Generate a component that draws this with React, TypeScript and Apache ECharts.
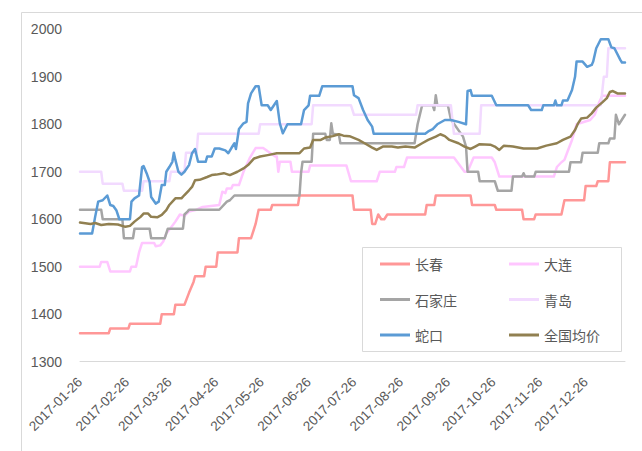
import { useEffect, useRef } from 'react';
import * as echarts from 'echarts';

// x axis: one category per day, labels on the 26th of each month
const startDate = '2017-01-26';
const dayCount = 361;

const yMin = 1300;
const yMax = 2000;
const yStep = 100;

const legendLeft = ['长春', '石家庄', '蛇口'];
const legendRight = ['大连', '青岛', '全国均价'];

// [day index from 2017-01-26, price]
const changchun = [[0,1360],[19,1360],[20,1370],[32,1370],[33,1380],[53,1380],[54,1400],[62,1400],[63,1420],[69,1420],[72,1445],[75,1468],[76,1480],[82,1480],[83,1500],[90,1500],[91,1530],[104,1530],[105,1560],[113,1560],[116,1590],[118,1620],[126,1620],[127,1630],[144,1630],[145,1650],[180,1650],[181,1620],[192,1620],[193,1590],[195,1590],[197,1610],[199,1600],[201,1600],[203,1610],[228,1610],[229,1630],[234,1630],[235,1650],[258,1650],[259,1630],[274,1630],[275,1620],[292,1620],[293,1600],[300,1600],[301,1610],[318,1610],[320,1640],[333,1640],[334,1670],[341,1670],[342,1680],[349,1680],[350,1720],[360,1720]];

const dalian = [[0,1500],[13,1500],[14,1510],[18,1510],[20,1490],[33,1490],[34,1500],[37,1500],[39,1530],[41,1550],[49,1550],[50,1543],[53,1545],[55,1553],[57,1570],[60,1582],[63,1595],[66,1610],[69,1607],[72,1616],[77,1620],[81,1626],[92,1630],[94,1658],[96,1655],[97,1665],[100,1665],[101,1672],[105,1672],[108,1700],[112,1728],[116,1750],[121,1750],[124,1743],[129,1732],[130,1732],[131,1700],[132,1721],[139,1721],[140,1700],[151,1700],[152,1713],[176,1713],[179,1680],[196,1680],[198,1700],[208,1700],[209,1710],[214,1710],[216,1730],[247,1730],[254,1700],[256,1700],[260,1730],[272,1730],[274,1720],[277,1690],[313,1690],[315,1710],[318,1720],[320,1725],[322,1742],[325,1767],[328,1800],[337,1809],[340,1820],[343,1847],[345,1860],[360,1860]];

const shijiazhuang = [[0,1620],[14,1620],[15,1600],[28,1600],[29,1560],[35,1560],[36,1580],[46,1580],[47,1560],[56,1560],[58,1580],[68,1580],[69,1610],[71,1616],[72,1620],[92,1620],[97,1637],[99,1640],[102,1650],[145,1650],[146,1697],[147,1721],[153,1721],[154,1780],[162,1780],[163,1767],[165,1767],[166,1802],[167,1780],[171,1778],[172,1760],[221,1760],[223,1800],[226,1840],[233,1840],[234,1830],[235,1861],[236,1840],[243,1840],[245,1810],[253,1774],[255,1753],[256,1700],[263,1700],[264,1680],[274,1680],[276,1660],[285,1660],[286,1690],[292,1690],[293,1697],[294,1690],[300,1690],[301,1700],[323,1700],[324,1720],[331,1720],[332,1740],[342,1740],[343,1760],[349,1760],[350,1770],[353,1770],[354,1820],[356,1800],[360,1820]];

const qingdao = [[0,1700],[14,1700],[15,1675],[28,1675],[29,1660],[41,1660],[42,1680],[59,1680],[60,1700],[69,1700],[70,1740],[77,1740],[78,1780],[118,1780],[119,1800],[153,1800],[154,1840],[179,1840],[181,1820],[222,1820],[223,1840],[245,1840],[247,1780],[264,1780],[265,1840],[344,1840],[346,1900],[348,1900],[349,1960],[360,1960]];

const shekou = [[0,1570],[8,1570],[10,1605],[12,1637],[15,1640],[18,1650],[20,1630],[22,1628],[24,1619],[26,1600],[33,1600],[34,1637],[36,1644],[39,1650],[41,1710],[42,1712],[44,1697],[46,1679],[47,1647],[50,1633],[52,1637],[54,1672],[56,1672],[57,1700],[59,1710],[61,1721],[62,1740],[63,1725],[65,1700],[67,1694],[69,1700],[72,1714],[74,1739],[76,1748],[78,1721],[83,1721],[84,1732],[87,1732],[89,1749],[92,1749],[96,1745],[98,1739],[100,1750],[102,1760],[103,1748],[105,1790],[108,1802],[110,1805],[111,1844],[113,1865],[116,1880],[118,1880],[120,1840],[124,1840],[126,1830],[130,1849],[132,1802],[134,1781],[137,1800],[146,1800],[148,1830],[151,1840],[152,1860],[158,1860],[160,1880],[180,1880],[181,1861],[184,1855],[187,1830],[190,1809],[193,1795],[194,1780],[228,1780],[230,1785],[233,1790],[236,1800],[241,1809],[245,1809],[250,1805],[255,1800],[256,1870],[258,1872],[259,1860],[272,1860],[275,1840],[296,1840],[298,1830],[305,1830],[306,1840],[313,1840],[314,1850],[315,1840],[318,1840],[319,1850],[322,1850],[325,1872],[327,1900],[328,1932],[332,1932],[335,1921],[338,1925],[339,1932],[341,1960],[344,1979],[349,1979],[351,1962],[353,1960],[357,1935],[358,1930],[360,1930]];

const junjia = [[0,1593],[7,1590],[10,1592],[14,1588],[19,1590],[25,1589],[30,1584],[33,1586],[36,1595],[40,1605],[42,1612],[45,1612],[47,1605],[51,1604],[54,1609],[57,1619],[59,1630],[63,1644],[67,1644],[69,1651],[72,1661],[74,1668],[76,1682],[79,1683],[84,1689],[87,1693],[90,1694],[95,1697],[99,1693],[104,1700],[108,1707],[111,1714],[115,1728],[119,1732],[124,1735],[130,1739],[145,1739],[148,1749],[152,1751],[154,1767],[159,1767],[162,1772],[167,1775],[171,1779],[174,1776],[178,1775],[184,1767],[188,1760],[193,1751],[196,1746],[200,1753],[206,1753],[210,1751],[215,1753],[221,1751],[226,1760],[230,1767],[235,1774],[238,1779],[241,1775],[244,1767],[250,1760],[254,1753],[258,1748],[261,1753],[264,1758],[271,1757],[274,1753],[277,1746],[280,1755],[286,1753],[293,1749],[302,1749],[308,1755],[315,1760],[319,1767],[324,1774],[327,1788],[329,1802],[331,1812],[335,1814],[338,1823],[341,1835],[345,1846],[348,1855],[350,1868],[352,1870],[355,1865],[360,1865]];

const seriesList = [
  { name: '长春', data: changchun, color: '#FF9797' },
  { name: '大连', data: dalian, color: '#FFC6FF' },
  { name: '石家庄', data: shijiazhuang, color: '#A5A5A5' },
  { name: '青岛', data: qingdao, color: '#F2DAFF' },
  { name: '蛇口', data: shekou, color: '#5B9BD5' },
  { name: '全国均价', data: junjia, color: '#918051' },
];

function buildDates(start: string, count: number): string[] {
  const [y, m, d] = start.split('-').map(Number);
  const out: string[] = [];
  for (let i = 0; i < count; i++) {
    out.push(new Date(Date.UTC(y, m - 1, d + i)).toISOString().slice(0, 10));
  }
  return out;
}

const FONT = "'Liberation Sans', 'Noto Sans CJK SC', sans-serif";

export default function App() {
  const ref = useRef<HTMLDivElement>(null);
  useEffect(() => {
    const chart = echarts.init(ref.current!, null, { renderer: 'svg' });
    const dates = buildDates(startDate, dayCount);
    const legendCommon = {
      orient: 'vertical',
      top: 256,
      padding: 0,
      itemGap: 19.5,
      itemWidth: 30,
      itemHeight: 3,
      icon: 'rect',
      selectedMode: false,
      textStyle: { fontSize: 14, color: '#595959', lineHeight: 16, fontFamily: "'Noto Sans CJK SC', sans-serif" },
    };
    chart.setOption({
      animation: false,
      backgroundColor: '#ffffff',
      grid: { left: 80, right: 17, top: 29.3, bottom: 89.3, containLabel: false, outerBoundsMode: 'none' },
      xAxis: {
        type: 'category',
        data: dates,
        boundaryGap: false,
        axisLine: { show: true, lineStyle: { color: '#D9D9D9', width: 1 } },
        axisTick: { show: false },
        splitLine: { show: false },
        axisLabel: {
          interval: (_i: number, v: string) => v.endsWith('-26'),
          rotate: 45,
          margin: 18,
          fontSize: 13.5,
          color: '#595959',
          fontFamily: FONT,
        },
      },
      yAxis: {
        type: 'value',
        min: yMin,
        max: yMax,
        interval: yStep,
        axisLine: { show: false },
        axisTick: { show: false },
        splitLine: { show: false },
        axisLabel: {
          margin: 18,
          fontSize: 14,
          color: '#595959',
          fontFamily: FONT,
          formatter: (v: number) => String(v),
        },
      },
      legend: [
        { ...legendCommon, left: 380, data: legendLeft },
        { ...legendCommon, left: 509, data: legendRight },
      ],
      graphic: [
        {
          type: 'rect',
          silent: true,
          z: 0,
          shape: { x: 21.5, y: 12.5, width: 700, height: 500 },
          style: { fill: 'none', stroke: '#D9D9D9', lineWidth: 1 },
        },
        {
          type: 'rect',
          silent: true,
          z: 0,
          shape: { x: 362.5, y: 247.5, width: 259, height: 104 },
          style: { fill: '#ffffff', stroke: '#D9D9D9', lineWidth: 1 },
        },
      ],
      series: seriesList.map((s) => ({
        name: s.name,
        type: 'line',
        data: s.data,
        showSymbol: false,
        symbol: 'none',
        color: s.color,
        lineStyle: { color: s.color, width: 2.5, cap: 'round', join: 'round' },
        emphasis: { disabled: true },
      })),
    });
    return () => chart.dispose();
  }, []);
  return (
    <div
      ref={ref}
      style={{ position: 'fixed', left: 0, top: 0, width: 642, height: 451, background: '#fff' }}
    />
  );
}
